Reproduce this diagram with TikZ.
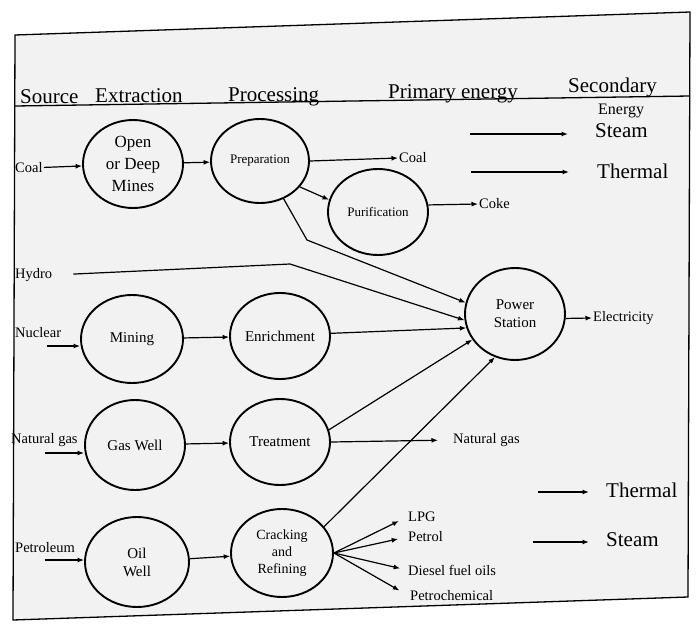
\documentclass[tikz,border=0pt]{standalone}
\usepackage{fontspec}
\setmainfont{Liberation Serif}
\usetikzlibrary{shapes.geometric,arrows.meta,calc}
\begin{document}
\begin{tikzpicture}[x=1pt,y=-1pt,
 ell/.style={draw,ellipse,line width=1.9pt,inner sep=0pt,align=center},
 arr/.style={-{Latex[length=6.5pt,width=5pt]},line width=1.2pt},
 lbl/.style={font=\fontsize{14.5}{16}\selectfont,inner sep=1pt,anchor=west},
 hd/.style={font=\fontsize{21}{23}\selectfont,inner sep=0pt,anchor=base west},
 big/.style={font=\fontsize{21}{23}\selectfont,inner sep=1pt,anchor=west},
 f13/.style={font=\fontsize{13}{16}\selectfont},
 f15/.style={font=\fontsize{15}{18}\selectfont},
 f17/.style={font=\fontsize{17}{22}\selectfont},
]
\useasboundingbox (0,0) rectangle (697,624);
% frame
\draw[line width=1.3pt, fill=gray!10] (15,35) -- (690,12) -- (688,597) -- (13,620) -- cycle;
\draw[line width=1.3pt] (15,106) -- (690,96);
% headers
\node[hd] (hsrc) at (20,103) {Source};
\node[hd] (hext) at (95,102) {Extraction};
\node[hd] (hproc) at (228,101) {Processing};
\node[hd] (hprim) at (388,98) {Primary energy};
\node[hd] (hsec) at (568,92) {Secondary};
\node[hd,font=\fontsize{16}{18}\selectfont] (hen) at (598,114) {Energy};
% ellipses
\node[ell,f17,minimum width=100pt,minimum height=88pt] (mines) at (133,164) {Open\\or Deep\\Mines};
\node[ell,f13,minimum width=98pt,minimum height=84pt] (prep) at (260,161) {Preparation};
\node[ell,f13,minimum width=100pt,minimum height=86pt] (purif) at (378,212) {Purification};
\node[ell,f15,minimum width=100pt,minimum height=92pt] (ps) at (515,314) {Power\\Station};
\node[ell,f15,minimum width=102pt,minimum height=88pt] (mining) at (132,339) {Mining};
\node[ell,f15,minimum width=100pt,minimum height=86pt] (enr) at (280,336) {Enrichment};
\node[ell,f15,minimum width=100pt,minimum height=90pt] (gas) at (135,445) {Gas Well};
\node[ell,f15,minimum width=100pt,minimum height=86pt] (treat) at (280,442) {Treatment};
\node[ell,f15,minimum width=104pt,minimum height=90pt] (oil) at (137,562) {Oil\\Well};
\node[ell,font=\fontsize{14}{17}\selectfont,minimum width=102pt,minimum height=88pt] (crack) at (282,553) {Cracking\\and\\Refining};
% left labels
\node[lbl] (coalL) at (14,168) {Coal};
\node[lbl] (hydro) at (14,275) {Hydro};
\node[lbl] (nuc) at (14,333) {Nuclear};
\node[lbl] (ngL) at (10,440) {Natural gas};
\node[lbl] (petL) at (14,548) {Petroleum};
\coordinate (nucS) at (47,346);
\coordinate (ngS) at (45,453);
\coordinate (petS) at (45,560);
\coordinate (hb) at (290,264);
\coordinate (pb) at (307,240);
% right labels
\node[lbl] (coalR) at (398,158) {Coal};
\node[lbl] (coke) at (478,204) {Coke};
\node[lbl] (elec) at (592,318) {Electricity};
\node[lbl] (ngR) at (452,440) {Natural gas};
\node[lbl] (lpg) at (407,517) {LPG};
\node[lbl] (petrol) at (407,537) {Petrol};
\node[lbl] (diesel) at (407,570) {Diesel fuel oils};
\node[lbl] (petro) at (409,596) {Petrochemical};
\node[big] (steam1) at (594,131) {Steam};
\node[big] (therm1) at (596,171) {Thermal};
\node[big] (therm2) at (605,490) {Thermal};
\node[big] (steam2) at (605,540) {Steam};
\coordinate (s1) at (470,134);
\coordinate (t1) at (471,172);
\coordinate (t2) at (538,492);
\coordinate (s2) at (533,542);
% connectors
\draw[arr] (coalL) -- (mines);
\draw[arr] (mines) -- (prep);
\draw[arr] (prep.east) -- (coalR.west);
\draw[arr] (prep.-33) -- (purif.166);
\draw[arr] (purif.8) -- (coke.west);
\draw[arr] (prep.-58) -- (pb) -- (ps.167);
\draw[arr,shorten <=20pt] (hydro.east) -- (hb) -- (ps.187);
\draw[arr] (nucS) -- (mining.west |- nucS);
\draw[arr] (mining) -- (enr);
\draw[arr] (enr.3) -- (ps.196);
\draw[arr] (ngS) -- (gas.west |- ngS);
\draw[arr] (gas) -- (treat);
\draw[arr] (treat.14) -- (ps.211);
\draw[arr,shorten >=14pt] (treat.east) -- (ngR.west);
\draw[arr] (petS) -- (oil.west |- petS);
\draw[arr] (oil) -- (crack);
\draw[arr] (crack.32) -- (ps.245);
\draw[arr,shorten >=9pt] (crack.east) -- (lpg.west);
\draw[arr,shorten >=9pt] (crack.east) -- (petrol.west);
\draw[arr,shorten >=7pt] (crack.east) -- (diesel.west);
\draw[arr,shorten >=11pt] (crack.east) -- (petro.west);
\draw[arr] (ps.-5) -- (elec.west);
\draw[arr,shorten >=26pt] (s1) -- (steam1.west |- s1);
\draw[arr,shorten >=27pt] (t1) -- (therm1.west |- t1);
\draw[arr,shorten >=16pt] (t2) -- (therm2.west |- t2);
\draw[arr,shorten >=16pt] (s2) -- (steam2.west |- s2);
\end{tikzpicture}
\end{document}
